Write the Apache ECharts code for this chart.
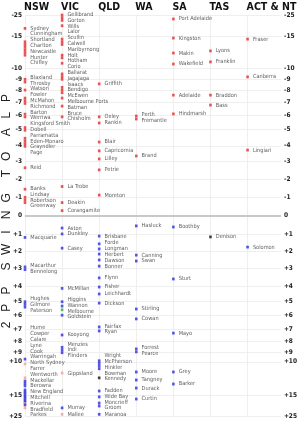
<!DOCTYPE html>
<html><head><meta charset="utf-8">
<script src="https://cdn.jsdelivr.net/npm/echarts@6/dist/echarts.min.js"></script>
<style>html,body{margin:0;padding:0;background:#fff}#c{width:300px;height:424px}</style>
</head><body><div id="c"></div>
<script>
// ---------- DATA ----------
const states = ['NSW','VIC','QLD','WA','SA','TAS','ACT & NT'];
const tickLabels = ['-25','-15','-10','-9','-8','-7','-6','-5','-4','-3','-2','-1','0','+1','+2','+3','+4','+5','+6','+7','+8','+9','+10','+15','+25'];
// pendulum position at which each tick value falls
const tickRanks = [0,8.1,19.8,23.9,28,32.4,37.3,42.5,48.8,54.7,61.2,68,74.9,81.8,88.3,94.5,101.1,106.7,112.2,117.2,121.9,125.9,129.4,141.8,149.6];

const nswSeats = ['Sydney','Cunningham','Shortland','Charlton','Newcastle','Hunter','Chifley','Blaxland','Throsby','Watson','Fowler','McMahon','Richmond','Barton','Werriwa','Kingsford Smith','Dobell','Parramatta','Eden-Monaro','Grayndler','Page','Reid','Banks','Lindsay','Robertson','Greenway','Macquarie','Macarthur','Bennelong','Hughes','Gilmore','Paterson','Hume','Cowper','Calare','Lyne','Cook','Warringah','North Sydney','Farrer','Wentworth','Mackellar','Berowra','New England','Mitchell','Riverina','Bradfield','Parkes'];
const nswRank = [5,10,11,12,13,14,15,24,25,28,31,32,33,37,38,42,43,46,47,48,49,57,65,68,69,70,83,94,95,107,108,109,128.4,130.2,135.4,136.6,137.5,138.4,139.9,140.7,141.4,142.2,142.9,143.7,144.4,145,145.5,146.6];
const nswParty = ['A','A','A','A','A','A','A','A','A','A','A','A','A','A','A','A','A','A','A','A','A','A','A','A','A','A','L','L','L','L','L','L','L','N','N','L','L','L','L','L','L','L','L','L','L','N','L','N'];

const vicSeats = ['Gellibrand','Gorton','Wills','Lalor','Scullin','Calwell','Maribyrnong','Holt','Hotham','Corio','Ballarat','Jagajaga','Isaacs','Bendigo','McEwen','Melbourne Ports','Batman','Bruce','Chisholm','La Trobe','Deakin','Corangamite','Aston','Dunkley','Casey','McMillan','Higgins','Wannon','Melbourne','Goldstein','Kooyong','Menzies','Indi','Flinders','Gippsland','Murray','Mallee'];
const vicRank = [0,1,2,4,9,10,11,15,16,18,22,23,24,27,28,29,31,34,38,64,70,73,79.5,81.7,87,102,107,108.6,110,112,119.4,124,125,126,133.6,146.6,149];
const vicParty = ['A','A','A','A','A','A','A','A','A','A','A','A','A','A','A','A','A','A','A','A','A','A','L','L','L','L','L','L','G','L','L','L','L','L','N','L','N'];

const qldSeats = ['Griffith','Oxley','Rankin','Blair','Capricornia','Lilley','Petrie','Moreton','Brisbane','Forde','Longman','Herbert','Dawson','Bonner','Flynn','Fisher','Leichhardt','Dickson','Fairfax','Ryan','Wright','McPherson','Hinkler','Bowman','Kennedy','Fadden','Wide Bay','Moncrieff','Groom','Maranoa'];
const qldRank = [25.7,38,40.3,47.4,50.7,53.7,57.8,67.2,82.5,85.4,87.3,89.2,91.4,93.7,98.1,101.5,104.1,107.5,116.4,117.9,129,130,131,132,135.4,140.3,142.5,144.8,145.9,149];
const qldParty = ['A','A','A','A','A','A','A','A','L','L','L','L','L','L','L','L','L','L','L','L','L','L','L','L','I','L','L','L','L','L'];

const waSeats = ['Perth','Fremantle','Brand','Hasluck','Canning','Swan','Stirling','Cowan','Forrest','Pearce','Moore','Tangney','Durack','Curtin'];
const waRank = [37.7,38.8,52.6,78.7,89.6,91.8,109.7,113.4,124.6,125.7,133.2,136.2,139.2,143.3];
const waParty = ['A','A','A','L','L','L','L','L','L','L','L','L','L','L'];

const saSeats = ['Port Adelaide','Kingston','Makin','Wakefield','Adelaide','Hindmarsh','Boothby','Sturt','Mayo','Grey','Barker'];
const saRank = [1.5,8.6,14.2,18.3,29.9,36.9,79.1,98.5,118.7,133.2,137.7];
const saParty = ['A','A','A','A','A','A','L','L','L','L','L'];

const tasSeats = ['Lyons','Franklin','Braddon','Bass','Denison'];
const tasRank = [13.4,17.5,29.9,33.6,82.8];
const tasParty = ['A','A','A','A','I'];

const terSeats = ['Fraser','Canberra','Lingiari','Solomon'];
const terRank = [9,23.1,50.4,86.6];
const terParty = ['A','A','A','L'];

const columns = [
  [nswSeats,nswRank,nswParty],[vicSeats,vicRank,vicParty],[qldSeats,qldRank,qldParty],
  [waSeats,waRank,waParty],[saSeats,saRank,saParty],[tasSeats,tasRank,tasParty],[terSeats,terRank,terParty]
];
const partyColor = {A:'#e52b2b', L:'#2a2ae0', N:'#f0a090', I:'#111111', G:'#2fae35'};
const axisTitle = '2PP SWING TO ALP';

// ---------- CHART ----------
const NARROW = '"Liberation Sans Narrow","DejaVu Sans Condensed",sans-serif';
const chart = echarts.init(document.getElementById('c'), null, {renderer:'canvas', width:300, height:424});
const zeroRank = tickRanks[tickLabels.indexOf('0')];
function tickText(v){
  let best = 0, bd = 1e9;
  tickRanks.forEach((r,i)=>{ const d=Math.abs(r-v); if(d<bd){bd=d;best=i;} });
  return bd < 0.01 ? tickLabels[best] : '';
}
function makeSeries(offsets){
  return columns.map((col,ci)=>({
    type:'scatter',
    symbol:'rect',
    symbolSize:[2.6,2.8],
    animation:false,
    z:3,
    data: col[0].map((nm,i)=>({
      name:nm, value:[ci, col[1][i]],
      itemStyle:{color:partyColor[col[2][i]]},
      label: offsets ? {offset:[0, offsets[ci][i]]} : {}
    })),
    label:{show:true, position:'right', distance:4, formatter:'{b}', fontSize:5.6, color:'#333', fontFamily:NARROW},
    emphasis:{disabled:true},
    markLine: ci===0 ? {silent:true, symbol:'none', label:{show:false}, animation:false,
      lineStyle:{color:'#c9c9c9', width:2, type:'solid'}, data:[{yAxis:zeroRank}]} : undefined
  }));
}
const yAxisBase = {
  type:'value', min:0, max:150, inverse:true,
  axisLine:{show:false},
  axisTick:{show:false, customValues:tickRanks},
  axisLabel:{customValues:tickRanks, formatter:tickText, fontSize:6.5, fontWeight:'bold', fontFamily:NARROW, color:'#222', margin:3}
};
const option = {
  backgroundColor:'#fff',
  animation:false,
  grid:{left:25, right:13, top:15, bottom:7, containLabel:false},
  xAxis:{type:'value', min:0, max:6.9,
    axisLine:{show:false}, axisTick:{show:false, customValues:[0,1,2,3,4,5,6]},
    axisLabel:{show:false},
    splitLine:{show:true, lineStyle:{color:'#ebebeb', width:0.8}}},
  yAxis:[
    Object.assign({}, yAxisBase, {position:'left', splitLine:{show:true, lineStyle:{color:'#ebebeb', width:0.8}}}),
    Object.assign({}, yAxisBase, {position:'right', splitLine:{show:false}})
  ],
  series: makeSeries(null)
};
chart.setOption(option);

// label de-overlap per column (cluster relaxation around markers)
function relax(items, gap, lo, hi){
  const clusters = [];
  const top = c => { const n=c.items.length; let t=c.sum/n-(n-1)*gap/2; return Math.max(lo, Math.min(hi-(n-1)*gap, t)); };
  items.forEach(it=>{
    clusters.push({items:[it], sum:it.y});
    while(clusters.length>1){
      const b=clusters[clusters.length-1], a=clusters[clusters.length-2];
      if(top(a)+a.items.length*gap > top(b)){ a.items=a.items.concat(b.items); a.sum+=b.sum; clusters.pop(); }
      else break;
    }
  });
  clusters.forEach(c=>{ const t=top(c); c.items.forEach((it,k)=>{ it.ly=t+k*gap; }); });
}
const offsets = columns.map((col,ci)=>{
  const items = col[1].map((r,i)=>({i, y: chart.convertToPixel({gridIndex:0},[ci,r])[1]}));
  items.sort((a,b)=>a.y-b.y);
  relax(items, 5.8, 14.5, 415);
  const off = new Array(items.length);
  items.forEach(it=>{ off[it.i] = it.ly - it.y; });
  return off;
});

// headers and axis title
const graphics = [];
states.forEach((s,i)=>{
  const p = chart.convertToPixel({gridIndex:0},[i,0]);
  graphics.push({type:'text', x:p[0]-1, y:7.5, silent:true,
    style:{text:s, font:'bold 10.5px '+NARROW, fill:'#111', textVerticalAlign:'middle', textAlign:'left'}});
});
(function(){
  const chars = axisTitle.split('');
  let y = 325; const pitch = 17.2;
  for(let k=0;k<chars.length;k++){
    const ch = chars[k];
    if(ch===' '){ y -= pitch*0.4; continue; }
    graphics.push({type:'text', x:7, y:y, rotation:Math.PI/2, silent:true,
      style:{text:ch, font:'12px "Liberation Sans",sans-serif', fill:'#222', textAlign:'center', textVerticalAlign:'middle'}});
    y -= pitch;
  }
})();
chart.setOption({series: makeSeries(offsets), graphic: graphics});
</script>
</body></html>
